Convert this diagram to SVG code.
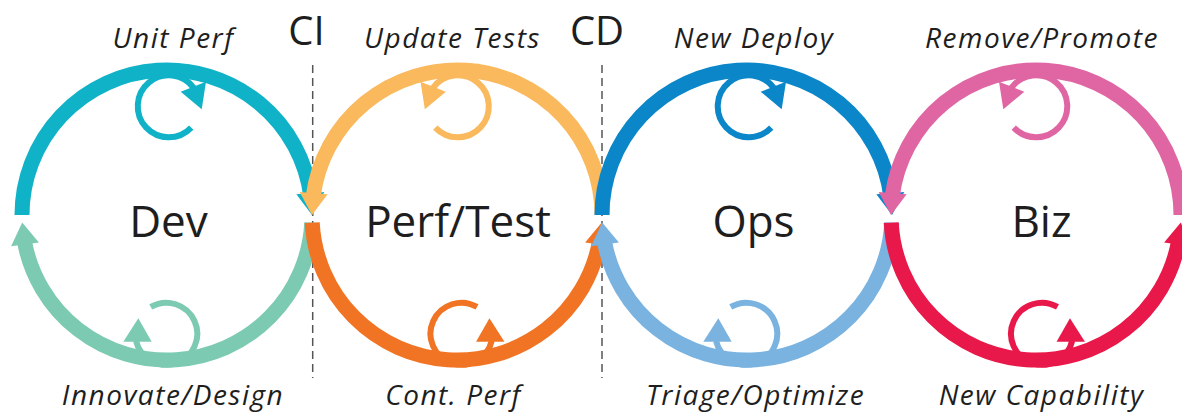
<svg xmlns="http://www.w3.org/2000/svg" xmlns:xlink="http://www.w3.org/1999/xlink" width="1182" height="413" viewBox="0 0 1182 413">
<style>
  .ring { fill: none; stroke: currentColor; stroke-width: 15; stroke-linecap: butt; }
  .loop { fill: none; stroke: currentColor; stroke-width: 6; stroke-linecap: butt; }
  .head { fill: currentColor; stroke: none; }
  .teal { color: #0fb2c7; }
  .mint { color: #7dcab2; }
  .yellow { color: #f9b95c; }
  .orange { color: #f07423; }
  .blue { color: #0a86c9; }
  .lblue { color: #7ab3e0; }
  .pink { color: #df66a3; }
  .red { color: #e8194a; }
  .big { font-family: "Open Sans", "Liberation Sans", sans-serif; font-size: 44px; fill: #1e1e1e; text-anchor: middle; }
  .gate { font-family: "Open Sans", "Liberation Sans", sans-serif; font-size: 40px; fill: #1e1e1e; text-anchor: middle; }
  .lab { font-family: "Open Sans", "Liberation Sans", sans-serif; font-style: italic; font-size: 28px; letter-spacing: 1.5px; fill: #1e1e1e; text-anchor: middle; }
  .div { stroke: #555; stroke-width: 1.5; stroke-dasharray: 8 5; fill: none; }
</style>
<defs>
  <g id="topCW">
    <path class="ring" d="M -145 0 A 145 145 0 0 1 143.76 -18.93"/>
    <path class="head" d="M 145 0 L 157.30 -22.97 L 129.38 -20.85 Z"/>
  </g>
  <g id="topCCW">
    <path class="ring" d="M 145 0 A 145 145 0 0 0 -143.76 -18.93"/>
    <path class="head" d="M -145 0 L -157.30 -22.97 L -129.38 -20.85 Z"/>
  </g>
  <g id="botCW">
    <path class="ring" d="M 144.80 7.59 A 145 145 0 0 1 -142.57 26.43"/>
    <path class="head" d="M -144.80 7.59 L -128.10 27.59 L -155.88 31.17 Z"/>
  </g>
  <g id="botCCW">
    <path class="ring" d="M -144.80 7.59 A 145 145 0 0 0 142.57 26.43"/>
    <path class="head" d="M 144.80 7.59 L 128.10 27.59 L 155.88 31.17 Z"/>
  </g>
  <g id="loopTop">
    <path class="loop" d="M 22.49 21.34 A 31 31 0 1 1 25.08 -18.22"/>
    <path class="head" d="M 37.25 -24.55 L 32.95 3.05 L 11.95 -14.55 Z"/>
  </g>
  <g id="loopBot">
    <path class="loop" d="M -15.5 -26.85 A 31 31 0 1 1 -30.21 6.97"/>
    <path class="head" d="M -27.95 -15.45 L -14.55 7.95 L -42.95 7.95 Z"/>
  </g>
</defs>

<g id="dividers">
  <line class="div" x1="312.7" y1="65" x2="312.7" y2="378"/>
  <line class="div" x1="602" y1="65" x2="602" y2="378"/>
  <text class="gate" x="306.5" y="45">CI</text>
  <text class="gate" x="597" y="45">CD</text>
</g>

<g id="dev">
  <use xlink:href="#topCW" href="#topCW" class="teal" transform="translate(167,215)"/>
  <use xlink:href="#botCW" href="#botCW" class="mint" transform="translate(167,215)"/>
  <use xlink:href="#loopTop" href="#loopTop" class="teal" transform="translate(168.75,106.25)"/>
  <use xlink:href="#loopBot" href="#loopBot" class="mint" transform="translate(166.25,333.75)"/>
  <text class="big" x="168.5" y="237">Dev</text>
  <text class="lab" x="173.5" y="48">Unit Perf</text>
  <text class="lab" x="173" y="405">Innovate/Design</text>
</g>

<g id="perf-test">
  <use xlink:href="#topCCW" href="#topCCW" class="yellow" transform="translate(457,215)"/>
  <use xlink:href="#botCCW" href="#botCCW" class="orange" transform="translate(457,215)"/>
  <use xlink:href="#loopTop" href="#loopTop" class="yellow" transform="translate(457.8,106.25) scale(-1,1)"/>
  <use xlink:href="#loopBot" href="#loopBot" class="orange" transform="translate(461.5,333.75) scale(-1,1)"/>
  <text class="big" x="458" y="237">Perf/Test</text>
  <text class="lab" x="452.5" y="48">Update Tests</text>
  <text class="lab" x="453.5" y="405">Cont. Perf</text>
</g>

<g id="ops">
  <use xlink:href="#topCW" href="#topCW" class="blue" transform="translate(747,215)"/>
  <use xlink:href="#botCW" href="#botCW" class="lblue" transform="translate(747,215)"/>
  <use xlink:href="#loopTop" href="#loopTop" class="blue" transform="translate(748.75,106.25)"/>
  <use xlink:href="#loopBot" href="#loopBot" class="lblue" transform="translate(746.25,333.75)"/>
  <text class="big" x="753.5" y="237">Ops</text>
  <text class="lab" x="754" y="48">New Deploy</text>
  <text class="lab" x="755.5" y="405">Triage/Optimize</text>
</g>

<g id="biz">
  <use xlink:href="#topCCW" href="#topCCW" class="pink" transform="translate(1036,215)"/>
  <use xlink:href="#botCCW" href="#botCCW" class="red" transform="translate(1036,215)"/>
  <use xlink:href="#loopTop" href="#loopTop" class="pink" transform="translate(1036.25,106.25) scale(-1,1)"/>
  <use xlink:href="#loopBot" href="#loopBot" class="red" transform="translate(1042,333.75) scale(-1,1)"/>
  <text class="big" x="1041.5" y="237">Biz</text>
  <text class="lab" x="1042" y="48">Remove/Promote</text>
  <text class="lab" x="1041.5" y="405">New Capability</text>
</g>
</svg>
